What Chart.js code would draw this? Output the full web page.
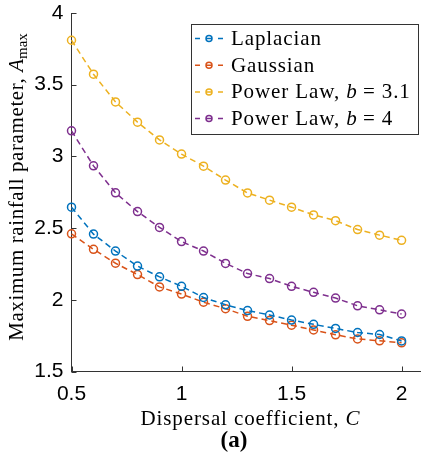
<!DOCTYPE html>
<html>
<head>
<meta charset="utf-8">
<script src="https://cdn.jsdelivr.net/npm/chart.js@4.4.1/dist/chart.umd.min.js"></script>
<style>
  html, body { margin: 0; padding: 0; background: #fff; }
  #wrap { width: 426px; height: 467px; }
</style>
</head>
<body>
<div id="wrap"><canvas id="chart" width="426" height="467"></canvas></div>
<script>
// dispersal coefficient C
const cValues = [0.5, 0.6, 0.7, 0.8, 0.9, 1.0, 1.1, 1.2, 1.3, 1.4, 1.5, 1.6, 1.7, 1.8, 1.9, 2.0];

// A_max for each kernel
const laplacian = [2.646, 2.458, 2.340, 2.235, 2.160, 2.094, 2.016, 1.965, 1.925, 1.894, 1.859, 1.829, 1.800, 1.772, 1.758, 1.713];
const gaussian = [2.460, 2.352, 2.255, 2.176, 2.090, 2.040, 1.983, 1.938, 1.885, 1.855, 1.823, 1.790, 1.756, 1.727, 1.714, 1.700];
const powerLaw31 = [3.810, 3.573, 3.380, 3.239, 3.115, 3.016, 2.932, 2.835, 2.745, 2.695, 2.646, 2.592, 2.552, 2.490, 2.451, 2.415];
const powerLaw4 = [3.178, 2.934, 2.746, 2.615, 2.505, 2.406, 2.340, 2.254, 2.183, 2.148, 2.094, 2.052, 2.012, 1.958, 1.930, 1.901];

const xTicks = [0.5, 1, 1.5, 2];
const yTicks = [1.5, 2, 2.5, 3, 3.5, 4];

const seriesNames = ['Laplacian', 'Gaussian', 'Power Law, b = 3.1', 'Power Law, b = 4'];
const seriesColors = ['#0072BD', '#D95319', '#EDB120', '#7E2F8E'];

const axisColor = '#333333';
const serif = '"Liberation Serif", "DejaVu Serif", serif';
const sans = '"Liberation Sans", Arial, sans-serif';
const spacing = '0.9px';   // Liberation Serif is narrower than the original LaTeX font

function toPoints(ys) {
    return cValues.map((c, i) => ({ x: c, y: ys[i] }));
}

// draw a line of mixed-style text, centred on cx
function drawRich(ctx, segs, cx, y) {
    let total = 0;
    segs.forEach(s => {
        ctx.font = s.font;
        ctx.letterSpacing = s.ls || '0px';
        total += ctx.measureText(s.text).width;
    });
    let x = cx - total / 2;
    ctx.textAlign = 'left';
    ctx.textBaseline = 'alphabetic';
    segs.forEach(s => {
        ctx.font = s.font;
        ctx.letterSpacing = s.ls || '0px';
        ctx.fillText(s.text, x, y + (s.dy || 0));
        x += ctx.measureText(s.text).width;
    });
    ctx.letterSpacing = '0px';
}

function drawRichLeft(ctx, segs, x, y) {
    ctx.textAlign = 'left';
    ctx.textBaseline = 'middle';
    segs.forEach(s => {
        ctx.font = s.font;
        ctx.letterSpacing = s.ls || '0px';
        ctx.fillText(s.text, x, y);
        x += ctx.measureText(s.text).width;
    });
    ctx.letterSpacing = '0px';
}

const decorPlugin = {
    id: 'decor',
    afterDraw(chart) {
        const ctx = chart.ctx;
        const xs = chart.scales.x, ys = chart.scales.y;
        const area = chart.chartArea;
        ctx.save();

        // inward tick marks
        ctx.strokeStyle = axisColor;
        ctx.lineWidth = 1;
        ctx.beginPath();
        xTicks.forEach(v => {
            const px = Math.round(xs.getPixelForValue(v)) + 0.5;
            ctx.moveTo(px, area.bottom);
            ctx.lineTo(px, area.bottom - 5);
        });
        yTicks.forEach(v => {
            const py = Math.round(ys.getPixelForValue(v)) + 0.5;
            ctx.moveTo(area.left, py);
            ctx.lineTo(area.left + 5, py);
        });
        ctx.stroke();

        ctx.fillStyle = '#000';
        const fs = 21;
        const normal = fs + 'px ' + serif;
        const italic = 'italic ' + fs + 'px ' + serif;

        // x axis title
        drawRich(ctx, [
            { text: 'Dispersal coefficient, ', font: normal, ls: spacing },
            { text: 'C', font: italic }
        ], 250, 425);

        // panel label
        drawRich(ctx, [{ text: '(a)', font: 'bold 23px ' + serif }], 234, 447);

        // y axis title, rotated
        ctx.save();
        ctx.translate(23, 187);
        ctx.rotate(-Math.PI / 2);
        drawRich(ctx, [
            { text: 'Maximum rainfall parameter, ', font: normal, ls: '0.6px' },
            { text: 'A', font: italic },
            { text: 'max', font: '15px ' + serif, dy: 4 }
        ], 0, 0);
        ctx.restore();

        // legend box
        const lx = 191.5, ly = 24.5, lw = 227, lh = 110;
        ctx.fillStyle = '#fff';
        ctx.fillRect(lx, ly, lw, lh);
        ctx.strokeStyle = axisColor;
        ctx.lineWidth = 1;
        ctx.strokeRect(lx, ly, lw, lh);

        const labelSegs = [
            [{ text: 'Laplacian', font: normal, ls: spacing }],
            [{ text: 'Gaussian', font: normal, ls: spacing }],
            [{ text: 'Power Law, ', font: normal, ls: spacing }, { text: 'b', font: italic }, { text: ' = 3.1', font: normal, ls: spacing }],
            [{ text: 'Power Law, ', font: normal, ls: spacing }, { text: 'b', font: italic }, { text: ' = 4', font: normal, ls: spacing }]
        ];
        labelSegs.forEach((segs, i) => {
            const cy = 38.5 + i * 26.7;
            const col = seriesColors[i];
            ctx.strokeStyle = col;
            ctx.lineWidth = 1.5;
            ctx.beginPath();
            ctx.moveTo(195, cy); ctx.lineTo(200, cy);
            ctx.moveTo(206, cy); ctx.lineTo(212, cy);
            ctx.moveTo(218, cy); ctx.lineTo(223, cy);
            ctx.stroke();
            ctx.beginPath();
            ctx.arc(209, cy, 3, 0, Math.PI * 2);
            ctx.stroke();
            ctx.fillStyle = '#000';
            drawRichLeft(ctx, segs, 231, cy + 1);
        });

        ctx.restore();
    }
};

const datasets = [laplacian, gaussian, powerLaw31, powerLaw4].map((ys, i) => ({
    label: seriesNames[i],
    data: toPoints(ys),
    borderColor: seriesColors[i],
    borderWidth: 1.5,
    borderDash: [6, 4],
    pointRadius: 4,
    pointBorderWidth: 1.5,
    pointBackgroundColor: 'rgba(0,0,0,0)',
    pointBorderColor: seriesColors[i],
    tension: 0,
    clip: false
}));

new Chart(document.getElementById('chart'), {
    type: 'line',
    data: { datasets },
    options: {
        responsive: false,
        devicePixelRatio: 1,
        animation: false,
        events: [],
        layout: { padding: { top: 13, right: 0, left: 0, bottom: 0 } },
        plugins: {
            legend: { display: false },
            tooltip: { enabled: false }
        },
        scales: {
            x: {
                type: 'linear',
                min: 0.5,
                max: 2.086,
                afterBuildTicks: axis => { axis.ticks = xTicks.map(v => ({ value: v })); },
                afterFit: axis => {
                    axis.height = 95.5;
                    axis.paddingLeft = 0;
                    axis.paddingRight = 0;
                },
                grid: { display: false, drawTicks: false },
                border: { display: true, color: axisColor, width: 1 },
                ticks: {
                    color: '#000',
                    font: { family: sans, size: 21 },
                    padding: 10,
                    maxRotation: 0,
                    callback: v => String(v)
                }
            },
            y: {
                type: 'linear',
                min: 1.5,
                max: 4,
                afterBuildTicks: axis => { axis.ticks = yTicks.map(v => ({ value: v })); },
                afterFit: axis => {
                    axis.width = 71.5;
                    axis.paddingTop = 0;
                    axis.paddingBottom = 0;
                },
                grid: { display: false, drawTicks: false },
                border: { display: true, color: axisColor, width: 1 },
                ticks: {
                    color: '#000',
                    font: { family: sans, size: 21 },
                    padding: 8,
                    callback: v => String(v)
                }
            }
        }
    },
    plugins: [decorPlugin]
});
</script>
</body>
</html>
